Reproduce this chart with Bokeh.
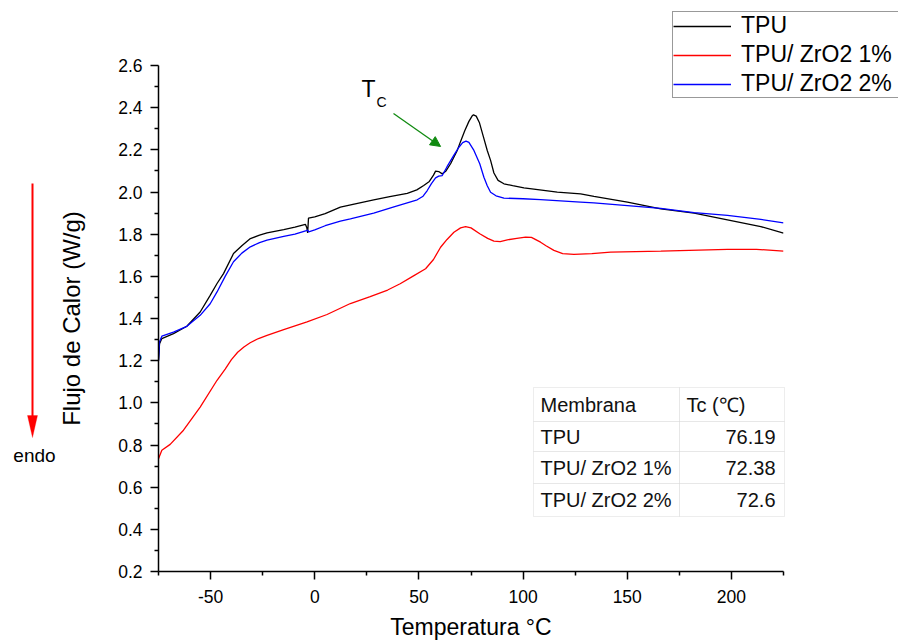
from bokeh.plotting import figure
from bokeh.models import (Range1d, FixedTicker, PrintfTickFormatter, Legend, LegendItem,
                          Label, BoxAnnotation, Arrow, NormalHead, PolyAnnotation, GridBox)
from bokeh.embed import file_html
from bokeh.resources import INLINE

# ---------------- data ----------------
tpu_t = [-75.0, -74.5, -73.4, -67.8, -61.4, -55.0, -50.2, -46.9, -43.8, -39.0, -35.0, -30.9, -26.5,
         -22.9, -14.9, -9.5, -4.5, -3.8, -3.4, -3.0, 0.0, 5.0, 12.3, 20.0, 28.3, 36.0, 44.4, 49.0,
         52.3, 55.0, 57.0, 58.0, 59.5, 61.2, 63.0, 65.2, 68.4, 70.0, 72.0, 74.0, 75.5, 76.2, 77.5,
         79.0, 81.0, 82.8, 84.4, 86.0, 88.0, 90.8, 95.0, 100.4, 108.0, 116.4, 127.6, 134.0, 150.1,
         166.1, 182.1, 198.1, 214.1, 225.0]
tpu_v = [1.20, 1.28, 1.305, 1.328, 1.363, 1.431, 1.51, 1.566, 1.613, 1.708, 1.745, 1.779, 1.795,
         1.806, 1.822, 1.833, 1.847, 1.83, 1.806, 1.876, 1.882, 1.897, 1.928, 1.945, 1.963, 1.978,
         1.994, 2.01, 2.031, 2.05, 2.08, 2.099, 2.097, 2.086, 2.10, 2.134, 2.197, 2.24, 2.29, 2.335,
         2.36, 2.366, 2.36, 2.33, 2.26, 2.197, 2.15, 2.09, 2.055, 2.039, 2.03, 2.02, 2.01, 1.999,
         1.991, 1.979, 1.952, 1.92, 1.90, 1.868, 1.836, 1.805]

zr1_t = [-75.0, -73.4, -69.4, -63.0, -55.0, -46.9, -43.0, -40.0, -37.0, -34.0, -31.0, -27.0, -22.9,
         -14.9, -3.7, 5.9, 17.1, 26.6, 35.0, 41.0, 47.0, 53.2, 57.0, 60.4, 63.5, 66.8, 70.0, 72.4,
         75.0, 79.2, 83.0, 86.0, 89.0, 92.4, 97.0, 101.2, 104.0, 108.4, 111.0, 114.8, 119.0, 124.4,
         133.0, 142.0, 166.1, 198.1, 212.0, 225.0]
zr1_v = [0.735, 0.775, 0.803, 0.87, 0.98, 1.107, 1.16, 1.205, 1.24, 1.265, 1.285, 1.305, 1.32,
         1.347, 1.384, 1.419, 1.471, 1.504, 1.535, 1.565, 1.60, 1.636, 1.68, 1.738, 1.775, 1.809,
         1.83, 1.836, 1.83, 1.802, 1.78, 1.767, 1.765, 1.773, 1.78, 1.786, 1.785, 1.762, 1.745,
         1.723, 1.708, 1.704, 1.708, 1.715, 1.72, 1.728, 1.728, 1.72]

zr2_t = [-75.0, -74.5, -73.4, -67.8, -61.4, -55.0, -50.2, -46.9, -43.0, -39.0, -35.0, -30.9, -26.5,
         -22.9, -14.9, -9.5, -4.0, -3.4, -2.9, 0.0, 5.0, 12.3, 17.1, 28.3, 38.0, 49.2, 52.0, 54.0,
         56.0, 58.0, 59.5, 61.2, 63.5, 66.8, 69.0, 71.0, 72.6, 74.0, 76.4, 79.2, 81.2, 82.8, 84.4,
         87.0, 90.8, 100.0, 108.4, 118.0, 127.6, 134.0, 150.1, 166.1, 182.1, 198.1, 214.1, 225.0]
zr2_v = [1.20, 1.29, 1.316, 1.335, 1.363, 1.415, 1.47, 1.526, 1.60, 1.669, 1.71, 1.74, 1.76,
         1.772, 1.79, 1.80, 1.817, 1.819, 1.811, 1.82, 1.84, 1.862, 1.873, 1.90, 1.93, 1.963, 1.98,
         2.007, 2.04, 2.067, 2.075, 2.078, 2.12, 2.175, 2.21, 2.234, 2.241, 2.235, 2.197, 2.134,
         2.07, 2.03, 1.999, 1.982, 1.971, 1.968, 1.964, 1.958, 1.952, 1.948, 1.935, 1.922, 1.902,
         1.889, 1.87, 1.854]

series_names = ["TPU", "TPU/ ZrO2 1%", "TPU/ ZrO2 2%"]
series_colors = ["#000000", "#ff0000", "#0000ff"]

table_header = ["Membrana", "Tc (\u2103)"]
table_names = ["TPU", "TPU/ ZrO2 1%", "TPU/ ZrO2 2%"]
table_tc = ["76.19", "72.38", "72.6"]

x_ticks = [-50, 0, 50, 100, 150, 200]
x_minor = [-75, -25, 25, 75, 125, 175, 225]
y_ticks = [0.2, 0.4, 0.6, 0.8, 1.0, 1.2, 1.4, 1.6, 1.8, 2.0, 2.2, 2.4, 2.6]
y_minor = [0.3, 0.5, 0.7, 0.9, 1.1, 1.3, 1.5, 1.7, 1.9, 2.1, 2.3, 2.5]

tc_arrow_start = (37.8, 2.372)
tc_arrow_end = (60.4, 2.216)

FONT = "Liberation Sans"
W, H = 898, 642
NAN = float("nan")

# ---------------- main figure (axes + data) ----------------
p = figure(frame_width=625, frame_height=506,
           x_range=Range1d(-75, 225), y_range=Range1d(0.2, 2.6),
           output_backend="svg", toolbar_location=None,
           min_border_left=158, min_border_right=115, min_border_top=65, min_border_bottom=71,
           x_axis_label="Temperatura \u00b0C", y_axis_label="Flujo de Calor (W/g)")
p.frame_align = False
p.xgrid.visible = False
p.ygrid.visible = False
p.outline_line_color = None

p.xaxis.ticker = FixedTicker(ticks=x_ticks, minor_ticks=x_minor)
p.yaxis.ticker = FixedTicker(ticks=y_ticks, minor_ticks=y_minor)
p.yaxis.formatter = PrintfTickFormatter(format="%.1f")
p.xaxis.major_label_overrides = {t: str(t) for t in x_ticks}

for ax in (p.xaxis[0], p.yaxis[0]):
    ax.axis_line_width = 1.5
    ax.axis_line_color = "black"
    ax.major_tick_line_width = 1.5
    ax.minor_tick_line_width = 1.5
    ax.major_tick_line_color = "black"
    ax.minor_tick_line_color = "black"
    ax.major_tick_out = 8
    ax.major_tick_in = 0
    ax.minor_tick_out = 4
    ax.minor_tick_in = 0
    ax.major_label_text_font = FONT
    ax.major_label_text_font_size = "17.5px"
    ax.major_label_text_color = "black"
    ax.axis_label_text_font = FONT
    ax.axis_label_text_font_style = "normal"
    ax.axis_label_text_color = "black"
p.xaxis[0].axis_label_text_font_size = "23px"
p.yaxis[0].axis_label_text_font_size = "24px"
p.xaxis[0].major_label_standoff = 10
p.xaxis[0].axis_label_standoff = 8
p.yaxis[0].major_label_standoff = 8
p.yaxis[0].axis_label_standoff = 30

for t, v, c in zip((tpu_t, zr1_t, zr2_t), (tpu_v, zr1_v, zr2_v), series_colors):
    p.line(t, v, line_color=c, line_width=1.3)

green = "#108a10"
p.add_layout(Arrow(end=NormalHead(size=10, fill_color=green, line_color=green),
                   x_start=tc_arrow_start[0], y_start=tc_arrow_start[1],
                   x_end=tc_arrow_end[0], y_end=tc_arrow_end[1],
                   line_color=green, line_width=1.3))

# ---------------- overlay (pixel space) for legend, table and notes ----------------
q = figure(width=W, height=H, min_border=0, x_range=Range1d(0, W), y_range=Range1d(H, 0),
           x_axis_type=None, y_axis_type=None, output_backend="svg", toolbar_location=None)
q.frame_align = False
q.outline_line_color = None
q.background_fill_alpha = 0
q.border_fill_alpha = 0

# legend swatches (no visible data: a single NaN point each)
leg_renderers = [q.line([NAN], [NAN], line_color=c, line_width=1.3) for c in series_colors]
legend = Legend(items=[LegendItem(label=n, renderers=[r]) for n, r in zip(series_names, leg_renderers)],
                location=(672, H - 98), margin=0, padding=0, spacing=2,
                glyph_width=58, glyph_height=20, label_height=20, label_standoff=10,
                label_width=157,
                label_text_font=FONT, label_text_font_size="23px", label_text_color="black",
                border_line_color="#333333", border_line_width=1,
                background_fill_color="white", background_fill_alpha=1)
q.add_layout(legend, "center")

# T_C label
q.add_layout(Label(x=368, y=88, text="T", text_font=FONT, text_font_size="23px",
                   text_align="center", text_baseline="middle", text_color="black"))
q.add_layout(Label(x=381, y=101, text="C", text_font=FONT, text_font_size="14px",
                   text_align="center", text_baseline="middle", text_color="black"))

# endo arrow
q.add_layout(Arrow(end=None, x_start=32, y_start=183, x_end=32, y_end=418,
                   line_color="red", line_width=2))
q.add_layout(PolyAnnotation(xs=[27, 37, 32], ys=[415, 415, 437],
                            fill_color="red", fill_alpha=1, line_color="red", line_width=1))
q.add_layout(Label(x=34, y=455, text="endo", text_font=FONT, text_font_size="19px",
                   text_align="center", text_baseline="middle", text_color="black"))

# table
row_edges = [387, 421, 451, 483, 516]
col_edges = [533, 679, 784]
for i in range(4):
    for j in range(2):
        q.add_layout(BoxAnnotation(left=col_edges[j], right=col_edges[j + 1],
                                   top=row_edges[i], bottom=row_edges[i + 1],
                                   fill_color="white", fill_alpha=1,
                                   line_color="#c4c4c4", line_width=1))
row_centers = [(row_edges[i] + row_edges[i + 1]) / 2 for i in range(4)]
q.add_layout(Label(x=540, y=row_centers[0], text=table_header[0], text_font=FONT,
                   text_font_size="20px", text_align="left", text_baseline="middle",
                   text_color="#111111"))
q.add_layout(Label(x=686, y=row_centers[0], text=table_header[1], text_font=FONT,
                   text_font_size="20px", text_align="left", text_baseline="middle",
                   text_color="#111111"))
for k in range(3):
    q.add_layout(Label(x=540, y=row_centers[k + 1], text=table_names[k], text_font=FONT,
                       text_font_size="20px", text_align="left", text_baseline="middle",
                       text_color="#111111"))
    q.add_layout(Label(x=775, y=row_centers[k + 1], text=table_tc[k], text_font=FONT,
                       text_font_size="20px", text_align="right", text_baseline="middle",
                       text_color="#111111"))

layout = GridBox(children=[(p, 0, 0), (q, 0, 0)])
open("out.html", "w").write(file_html(layout, INLINE))
